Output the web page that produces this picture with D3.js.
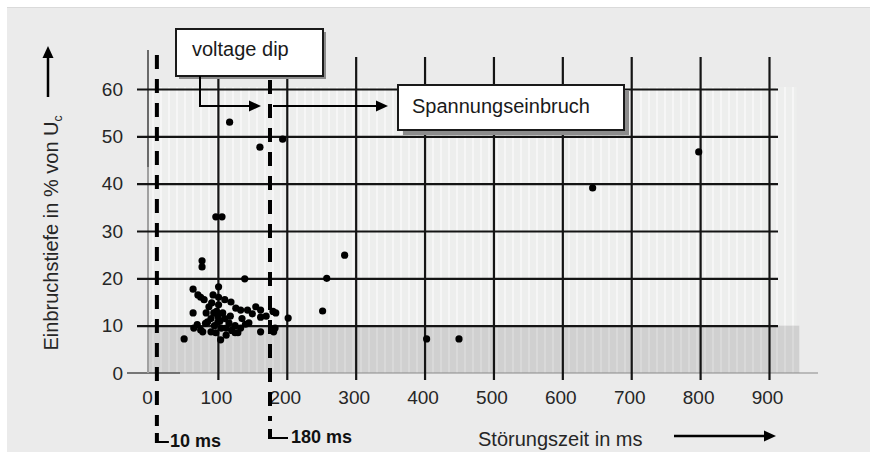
<!DOCTYPE html>
<html>
<head>
<meta charset="utf-8">
<script src="https://cdn.jsdelivr.net/npm/d3@7"></script>
<style>
body { margin: 0; background: #fff; }
svg { display: block; font-family: "Liberation Sans", Arial, sans-serif; }
</style>
</head>
<body>
<svg id="chart" width="870" height="452"></svg>
<script>
// ticks and reference markers
var xTicks = [0, 100, 200, 300, 400, 500, 600, 700, 800, 900];
var yTicks = [0, 10, 20, 30, 40, 50, 60];
var markerTimes = [10, 180];
var markerLabels = ["10 ms", "180 ms"];

// measured dips: duration (ms) and depth (% of Uc)
var dipTimes = [117, 161, 194, 97, 106, 77, 77, 139, 284, 258, 252, 202, 51, 403, 450, 644, 798,
  64, 71, 75, 80, 93, 101, 101, 91, 101, 110, 119, 126, 133, 143, 155, 162, 162, 184, 181, 64,
  83, 94, 107, 118, 65, 75, 70, 82, 90, 97, 104, 112, 116, 120, 129, 133, 140, 145, 162, 85,
  100, 105, 95, 110, 125, 150, 170, 183, 100, 90, 78, 112, 125, 135, 87, 98, 103, 180];
var dipDepths = [53, 47.7, 49.4, 33, 33, 23.7, 22.4, 19.9, 24.9, 20, 13.1, 11.6, 7.2, 7.2, 7.2, 39.1, 46.7,
  17.7, 16.5, 16, 15.5, 16.5, 18.2, 16, 14.8, 14.4, 15.5, 15, 13.7, 13.3, 13.3, 14, 13.3, 11.8, 12.7, 8.7, 12.7,
  12.7, 12.7, 12.7, 12, 9.5, 9.1, 10.2, 10.5, 8.7, 8.5, 7, 9.5, 10.6, 9, 8.5, 9.5, 10.3, 10.6, 8.7, 10.8,
  10.8, 9.5, 10, 11.5, 10, 12.5, 12, 9.5, 12, 11.5, 8.7, 8, 8.5, 11.5, 14, 13, 11, 13];

var svg = d3.select("#chart");
var x = d3.scaleLinear().domain([0, 900]).range([149, 769]);
var y = d3.scaleLinear().domain([0, 60]).range([373, 89]);
var ink = "#141414", txt = "#262626";

// panel background
svg.append("rect").attr("x", 7).attr("y", 7).attr("width", 863).attr("height", 445).attr("fill", "#ebebeb");
svg.append("line").attr("x1", 7).attr("x2", 870).attr("y1", 7.5).attr("y2", 7.5).attr("stroke", "#dadada");

var defs = svg.append("defs");
function stripes(id, base, light) {
  var p = defs.append("pattern").attr("id", id).attr("patternUnits", "userSpaceOnUse")
    .attr("width", 8).attr("height", 10);
  p.append("rect").attr("width", 8).attr("height", 10).attr("fill", base);
  p.append("rect").attr("width", 2).attr("height", 10).attr("fill", light);
}
stripes("stripeLight", "#edeeed", "#f6f6f6");
stripes("stripeDark", "#d0d0d0", "#d9d9d9");

svg.append("rect").attr("x", x(0)).attr("y", y(60) - 2)
  .attr("width", x(940) - x(0)).attr("height", y(10) - y(60) + 2)
  .attr("fill", "url(#stripeLight)");
svg.append("rect").attr("x", x(0)).attr("y", y(10))
  .attr("width", x(944) - x(0)).attr("height", y(0) - y(10))
  .attr("fill", "url(#stripeDark)");

// base axis lines
svg.append("line").attr("x1", 127).attr("x2", 818).attr("y1", y(0)).attr("y2", y(0))
  .attr("stroke", "#8a8a8a").attr("stroke-width", 1.2);
svg.append("line").attr("x1", 127).attr("x2", 180).attr("y1", y(0)).attr("y2", y(0))
  .attr("stroke", "#333").attr("stroke-width", 1.2);
svg.append("line").attr("x1", x(0) - 1).attr("x2", x(0) - 1).attr("y1", 167).attr("y2", y(0))
  .attr("stroke", "#a0a0a0").attr("stroke-width", 2);
svg.append("line").attr("x1", x(0) - 1).attr("x2", x(0) - 1).attr("y1", 50).attr("y2", 167)
  .attr("stroke", "#333").attr("stroke-width", 1.4);

// vertical grid + x tick labels
var gx = svg.append("g").attr("transform", "translate(0,380)")
  .call(d3.axisBottom(x).tickValues(xTicks).tickSizeInner(-(380 - 57)).tickSizeOuter(0).tickPadding(11));
gx.select(".domain").remove();
gx.selectAll(".tick line").attr("stroke", ink).attr("stroke-width", 2.2)
  .filter(function(d) { return d === 0; }).remove();
gx.selectAll(".tick text").attr("fill", txt).attr("font-size", 19).attr("dx", -2)
  .style("font-family", "Liberation Sans, Arial, sans-serif");

// horizontal grid + y tick labels
var gy = svg.append("g").attr("transform", "translate(137,0)")
  .call(d3.axisLeft(y).tickValues(yTicks).tickSizeInner(-(778 - 137)).tickSizeOuter(0).tickPadding(14));
gy.select(".domain").remove();
gy.selectAll(".tick line").attr("stroke", ink).attr("stroke-width", 2.2)
  .filter(function(d) { return d === 0; }).remove();
gy.selectAll(".tick text").attr("fill", txt).attr("font-size", 19)
  .style("font-family", "Liberation Sans, Arial, sans-serif");

// 10 ms / 180 ms markers
var mTop = [55, 80], mEnd = [426, 421], hookY = [433, 429];
markerTimes.forEach(function(t, i) {
  var mx = x(t) + (i === 0 ? 1 : -3);
  svg.append("line").attr("x1", mx).attr("x2", mx).attr("y1", mTop[i]).attr("y2", mEnd[i])
    .attr("stroke", "#000").attr("stroke-width", 4).attr("stroke-dasharray", "14,10");
  svg.append("line").attr("x1", mx).attr("x2", mx).attr("y1", hookY[i]).attr("y2", hookY[i] + 10)
    .attr("stroke", "#000").attr("stroke-width", 4);
  svg.append("line").attr("x1", mx).attr("x2", mx + (i === 0 ? 12 : 18))
    .attr("y1", hookY[i] + 9).attr("y2", hookY[i] + 9)
    .attr("stroke", "#000").attr("stroke-width", 2);
  svg.append("text").attr("x", mx + (i === 0 ? 13 : 21)).attr("y", hookY[i] + 14)
    .attr("font-size", 18).attr("font-weight", "bold").attr("fill", "#111")
    .text(markerLabels[i]);
});

// data points
svg.append("g").selectAll("circle")
  .data(dipTimes.map(function(t, i) { return [t, dipDepths[i]]; }))
  .enter().append("circle")
  .attr("cx", function(d) { return x(d[0]); })
  .attr("cy", function(d) { return y(d[1]); })
  .attr("r", 3.6)
  .attr("fill", "#000");

// arrows
function arrow(x1, y1, x2, y2, w) {
  var a = Math.atan2(y2 - y1, x2 - x1), L = 12, H = 5.5;
  var bx = x2 - L * Math.cos(a), by = y2 - L * Math.sin(a);
  svg.append("line").attr("x1", x1).attr("y1", y1).attr("x2", bx).attr("y2", by)
    .attr("stroke", "#000").attr("stroke-width", w || 2);
  svg.append("path")
    .attr("d", "M" + x2 + "," + y2 +
      "L" + (bx - H * Math.sin(a)) + "," + (by + H * Math.cos(a)) +
      "L" + (bx + H * Math.sin(a)) + "," + (by - H * Math.cos(a)) + "Z")
    .attr("fill", "#000");
}

// annotation boxes
function box(bx, by, bw, bh, sh, label, tx, ty) {
  svg.append("rect").attr("x", bx + sh).attr("y", by + sh).attr("width", bw).attr("height", bh)
    .attr("fill", "#8c8c8c");
  svg.append("rect").attr("x", bx).attr("y", by).attr("width", bw).attr("height", bh)
    .attr("fill", "#fff").attr("stroke", "#1a1a1a").attr("stroke-width", 2);
  svg.append("text").attr("x", tx).attr("y", ty).attr("font-size", 20).attr("fill", "#1a1a1a").text(label);
}
box(176, 29, 147, 47, 3, "voltage dip", 192, 56);
svg.append("line").attr("x1", 200).attr("x2", 200).attr("y1", 76).attr("y2", 106)
  .attr("stroke", "#000").attr("stroke-width", 2);
arrow(199, 106, 261, 106);
arrow(273, 106, 388, 106);
box(398, 85, 226, 45, 5, "Spannungseinbruch", 412, 113);

// axis titles
svg.append("text")
  .attr("transform", "translate(58,233) rotate(-90)")
  .attr("text-anchor", "middle").attr("font-size", 20).attr("fill", txt)
  .text("Einbruchstiefe in % von U")
  .append("tspan").attr("font-size", 12).attr("dy", 4).text("c");
arrow(48, 97, 48, 46, 2.5);

svg.append("text").attr("x", 478).attr("y", 446).attr("font-size", 20).attr("fill", txt)
  .text("Störungszeit in ms");
arrow(674, 436, 776, 436, 2.5);
</script>
</body>
</html>
